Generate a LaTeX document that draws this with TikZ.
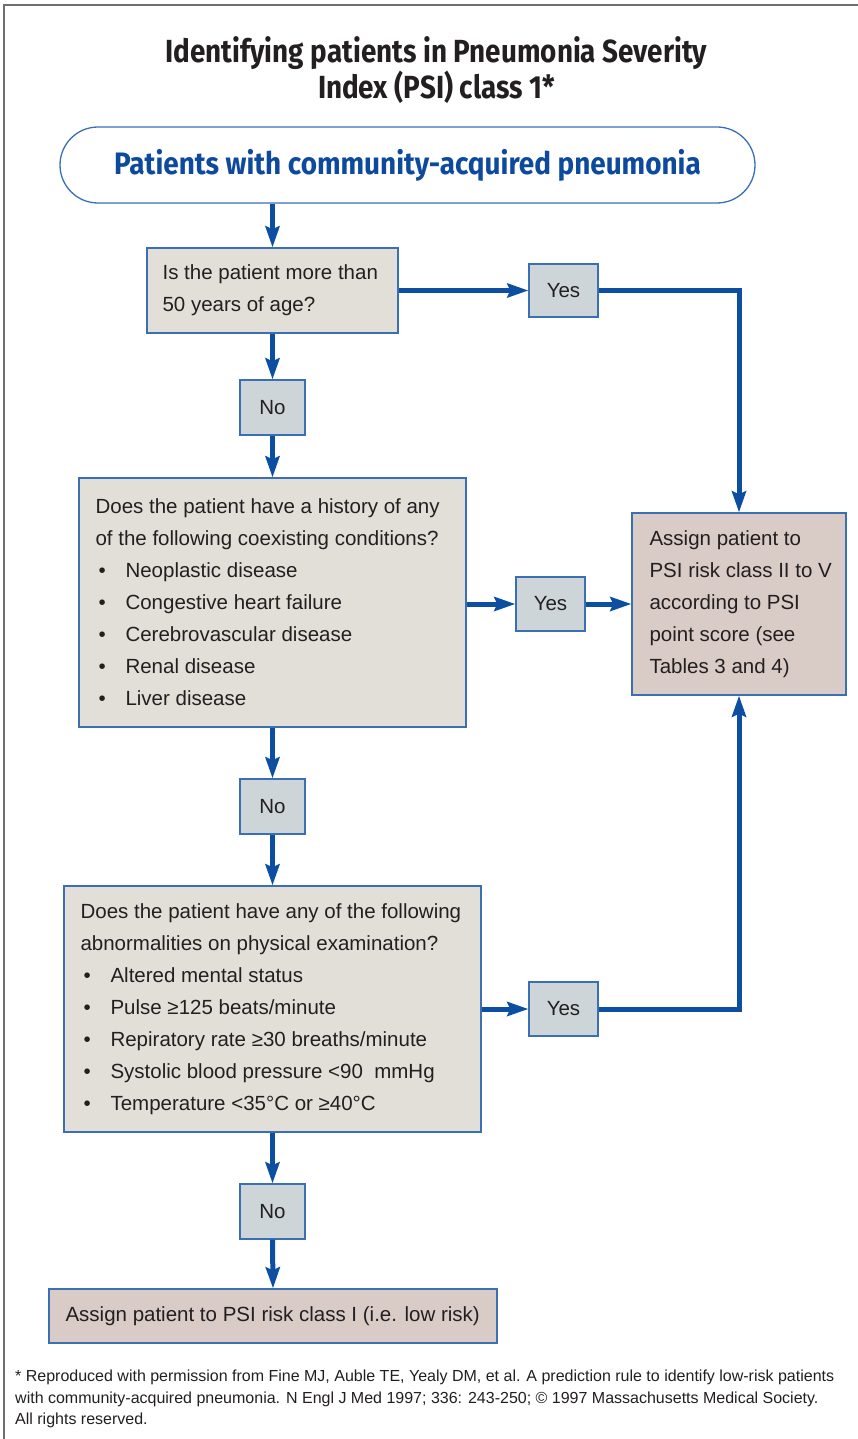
\documentclass[tikz,border=0pt]{standalone}
\usepackage{fontspec}
\setmainfont{Liberation Sans}
\newfontfamily\condfont{Fira Sans}[FakeStretch=0.87]
\newfontfamily\condfontb{Fira Sans}[FakeStretch=0.9]
\usetikzlibrary{arrows.meta}
\definecolor{arrowblue}{RGB}{12,78,162}
\definecolor{bord}{RGB}{58,111,181}
\definecolor{beige}{RGB}{226,223,217}
\definecolor{grayblue}{RGB}{205,213,217}
\definecolor{pinkbox}{RGB}{217,203,198}
\definecolor{txt}{RGB}{35,31,32}
\definecolor{framegray}{RGB}{110,110,110}
\definecolor{titleblue}{RGB}{13,74,158}
\newcommand\bodyfs{\fontsize{20.5}{32}\selectfont}
\newcommand\bulit{\makebox[30pt][l]{\hspace{3pt}\textbullet}}
\begin{document}
\begin{tikzpicture}[x=1pt,y=-1pt,
  box/.style={draw=bord, line width=1.3pt, inner sep=0pt},
  qbox/.style={box, fill=beige},
  abox/.style={box, fill=pinkbox},
  ynbox/.style={box, fill=grayblue, minimum height=54pt, font=\bodyfs, text=txt},
  txtblock/.style={inner sep=0pt, align=left, anchor=west, font=\bodyfs, text=txt},
  conn/.style={draw=arrowblue, line width=5pt, -{Stealth[length=21pt,width=14pt,inset=3pt]}}
]
\useasboundingbox (0,0) rectangle (858,1439);
\draw[framegray, line width=2pt] (4,1439) -- (4,5) -- (858,5);

\node[font=\condfont\bfseries\fontsize{32}{33}\selectfont, align=center, text=txt, inner sep=0pt] (title) at (436.5,70) {Identifying patients in Pneumonia Severity\\Index (PSI) class 1*};

\node[draw=bord, line width=1.3pt, fill=white, rounded corners=38pt, minimum width=695pt, minimum height=76pt, inner sep=0pt, font=\condfontb\bfseries\fontsize{31}{32}\selectfont, text=titleblue] (start) at (407.5,165) {Patients with community-acquired pneumonia};

% question 1
\node[qbox, minimum width=251pt, minimum height=85pt] (q1) at (272.5,290.5) {};
\node[txtblock] (q1t) at ([xshift=16pt]q1.west) {Is the patient more than\\50 years of age?};
\node[ynbox, minimum width=69pt, minimum height=53pt] (y1) at (563.5,290.5) {Yes};
\node[ynbox, minimum width=65pt, minimum height=55pt] (n1) at (272.5,407.5) {No};

% question 2
\node[qbox, minimum width=387pt, minimum height=249pt] (q2) at (272.5,602.5) {};
\node[txtblock] (q2t) at ([xshift=17pt]q2.west) {Does the patient have a history of any\\of the following coexisting conditions?\\
\bulit Neoplastic disease\\\bulit Congestive heart failure\\\bulit Cerebrovascular disease\\\bulit Renal disease\\\bulit Liver disease};
\node[ynbox, minimum width=69pt] (y2) at (550.5,604) {Yes};
\node[ynbox, minimum width=65pt, minimum height=55pt] (n2) at (272.5,806.5) {No};

% PSI box
\node[abox, minimum width=214pt, minimum height=182pt] (psi) at (739,604) {};
\node[txtblock] (psit) at ([xshift=18pt]psi.west) {Assign patient to\\PSI risk class II to V\\according to PSI\\point score (see\\Tables 3 and 4)};

% question 3
\node[qbox, minimum width=417pt, minimum height=246pt] (q3) at (272.5,1009) {};
\node[txtblock] (q3t) at ([xshift=17pt]q3.west) {Does the patient have any of the following\\abnormalities on physical examination?\\
\bulit Altered mental status\\\bulit Pulse ≥125 beats/minute\\\bulit Repiratory rate ≥30 breaths/minute\\\bulit Systolic blood pressure <90\ \ mmHg\\\bulit Temperature <35°C or ≥40°C};
\node[ynbox, minimum width=69pt] (y3) at (563.5,1009) {Yes};
\node[ynbox, minimum width=65pt, minimum height=55pt] (n3) at (272.5,1211.5) {No};

% final
\node[abox, minimum width=448pt, minimum height=54pt] (fin) at (273,1316) {};
\node[txtblock] (fint) at ([xshift=17pt]fin.west) {Assign patient to PSI risk class I (i.e. low risk)};

% footnote
\node[anchor=north west, inner sep=0pt, align=left, text=txt, font=\fontsize{16}{21.5}\selectfont] (fn) at (15,1370) {* Reproduced with permission from Fine MJ, Auble TE, Yealy DM, et al. A prediction rule to identify low-risk patients\\with community-acquired pneumonia. N Engl J Med 1997; 336: 243-250; © 1997 Massachusetts Medical Society.\\All rights reserved.};

% connectors
\draw[conn] (q1.north |- start.south) -- (q1.north);
\draw[conn] (q1.south) -- (n1.north);
\draw[conn] (n1.south) -- (q2.north);
\draw[conn] (q2.south) -- (n2.north);
\draw[conn] (n2.south) -- (q3.north);
\draw[conn] (q3.south) -- (n3.north);
\draw[conn] (n3.south) -- (fin.north);

\draw[conn] (q1.east |- y1.west) -- (y1.west);
\draw[conn] (q2.east |- y2.west) -- (y2.west);
\draw[conn] (y2.east) -- (psi.west |- y2.east);
\draw[conn] (q3.east |- y3.west) -- (y3.west);

\draw[conn, line join=miter] (y1.east) -| (psi.north);
\draw[conn, line join=miter] (y3.east) -| (psi.south);
\end{tikzpicture}
\end{document}
